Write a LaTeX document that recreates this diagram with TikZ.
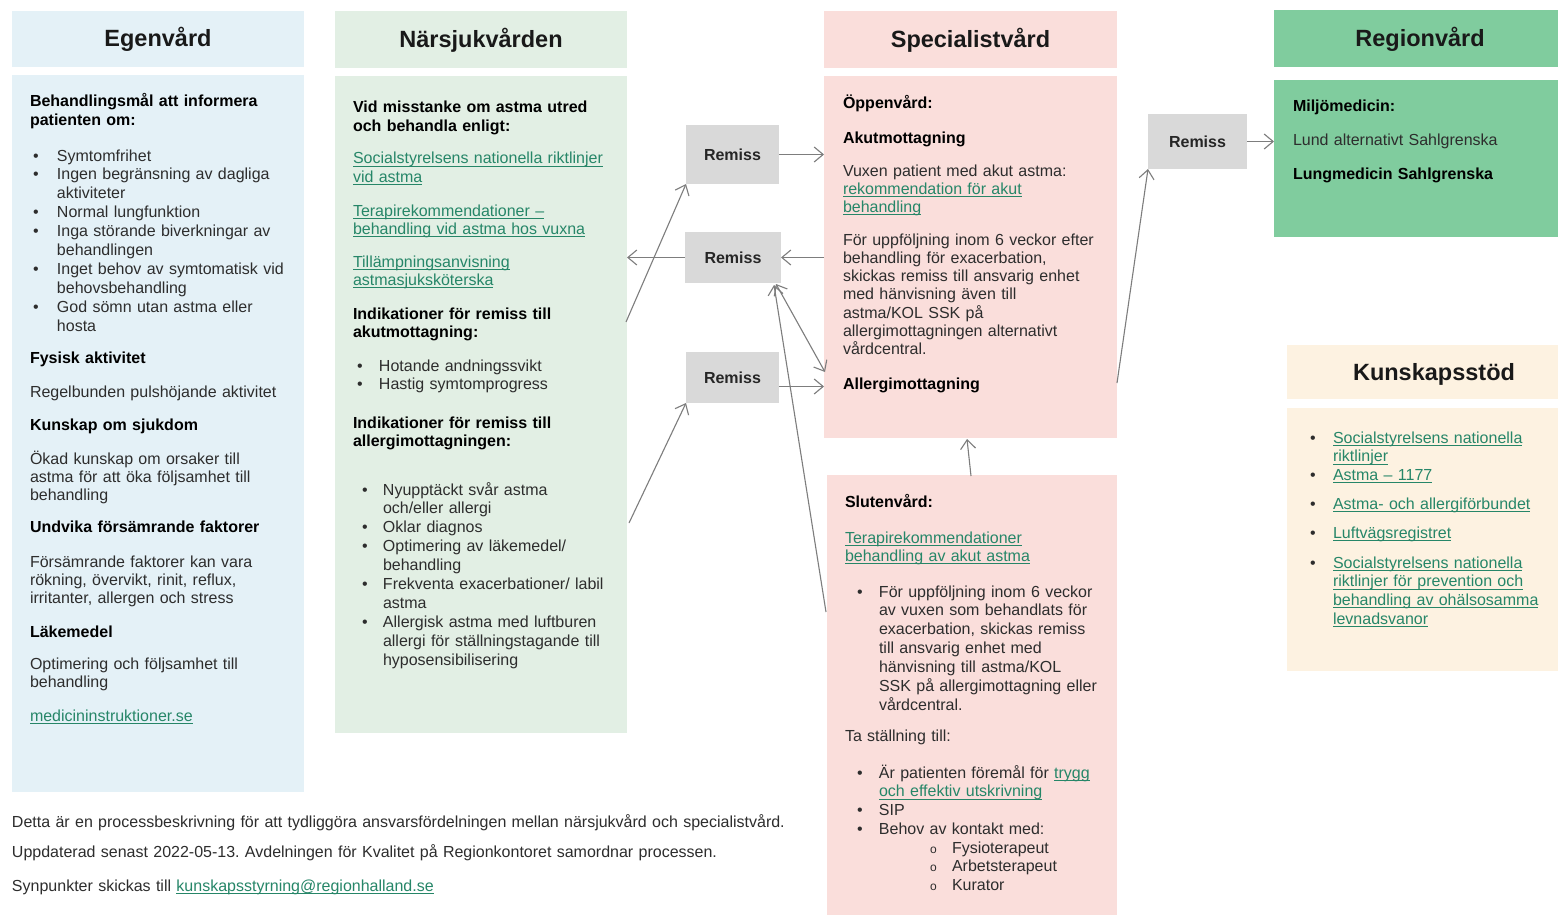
\documentclass[tikz,border=0pt]{standalone}
\usepackage{fontspec}
\setmainfont{Liberation Sans}
\usetikzlibrary{arrows.meta,calc}
\frenchspacing
\definecolor{egen}{RGB}{228,241,247}
\definecolor{nars}{RGB}{226,239,228}
\definecolor{spec}{RGB}{250,222,219}
\definecolor{regn}{RGB}{128,204,158}
\definecolor{kuns}{RGB}{253,242,225}
\definecolor{remc}{RGB}{217,217,217}
\definecolor{linkc}{RGB}{38,134,104}
\definecolor{bodyc}{RGB}{45,45,45}
\definecolor{arrc}{RGB}{125,125,125}
\newlength\bw
\setlength\bw{24pt}
\newcommand\lnk[1]{\leavevmode{\color{linkc}\setbox0\hbox{#1}\rlap{\rule[-2.6pt]{\wd0}{1pt}}\box0}}
\newcommand\bodyfont{\fontsize{16}{18.3}\selectfont\frenchspacing}
\newcommand\listfont{\fontsize{16}{18.9}\selectfont\frenchspacing}
\newcommand\bu{\makebox[\bw][l]{\textbullet}}
\newcommand\ci{\makebox[\bw][l]{\fontsize{12}{12}\selectfont o}}
\newcommand\nx{\hspace*{\bw}}
\tikzset{
  txt/.style={anchor=base west, inner sep=0pt, outer sep=0pt, text width=300pt, align=left, font=\bodyfont, text=bodyc},
  bld/.style={txt, font=\bodyfont\bfseries, text=black},
  lst/.style={txt, font=\listfont},
  box/.style={anchor=north west, inner sep=0pt, outer sep=0pt, draw=none},
  hd/.style={box, font=\fontsize{23.5}{26}\selectfont\bfseries, text height=18pt, text depth=2pt, text=black!90},
  rem/.style={fill=remc, inner sep=0pt, outer sep=0pt, font=\fontsize{16}{18}\selectfont\bfseries, text height=12pt, text depth=0pt, text=black!85},
  arr/.style={draw=arrc, line width=1.1pt, -{Straight Barb[length=9pt,width=15pt]}},
  arr2/.style={draw=arrc, line width=1.1pt, {Straight Barb[length=9pt,width=15pt]}-{Straight Barb[length=9pt,width=15pt]}}
}
\begin{document}
\begin{tikzpicture}[x=1pt,y=-1pt]
\fill[white] (0,0) rectangle (1558,915);
\useasboundingbox (0,0) rectangle (1558,915);
% headers
\node[hd, fill=egen, minimum width=292pt, minimum height=56pt] (egH) at (12,11) {Egenvård};
\node[hd, fill=nars, minimum width=292pt, minimum height=57pt] (naH) at (335,11) {Närsjukvården};
\node[hd, fill=spec, minimum width=293pt, minimum height=57pt] (spH) at (824,11) {Specialistvård};
\node[hd, fill=regn, minimum width=284pt, minimum height=57pt] (reH) at (1274,10) {\hspace*{8pt}Regionvård};
\node[hd, fill=kuns, minimum width=271pt, minimum height=54pt] (kuH) at (1287,345) {\hspace*{23pt}Kunskapsstöd};
% bodies
\node[box, fill=egen, minimum width=292pt, minimum height=717pt] (egB) at (12,75) {};
\node[box, fill=nars, minimum width=292pt, minimum height=657pt] (naB) at (335,76) {};
\node[box, fill=spec, minimum width=293pt, minimum height=362pt] (spB) at (824,76) {};
\node[box, fill=spec, minimum width=290pt, minimum height=440pt] (slB) at (827,475) {};
\node[box, fill=regn, minimum width=284pt, minimum height=157pt] (reB) at (1274,80) {};
\node[box, fill=kuns, minimum width=271pt, minimum height=263pt] (kuB) at (1287,408) {};
% remiss boxes
\node[rem, minimum width=93pt, minimum height=59pt] (rem1) at (732.5,154.5) {Remiss};
\node[rem, minimum width=96pt, minimum height=51pt] (rem2) at (733,257.5) {Remiss};
\node[rem, minimum width=93pt, minimum height=51pt] (rem3) at (732.5,377.5) {Remiss};
\node[rem, minimum width=99pt, minimum height=55pt] (rem4) at (1197.5,141.5) {Remiss};
% Egenvard text
\node[bld] (e1) at (30,107) {Behandlingsmål att informera\\patienten om:};
\node[lst] (e2) at (33,161) {\bu Symtomfrihet\\\bu Ingen begränsning av dagliga\\\nx aktiviteter\\\bu Normal lungfunktion\\\bu Inga störande biverkningar av\\\nx behandlingen\\\bu Inget behov av symtomatisk vid\\\nx behovsbehandling\\\bu God sömn utan astma eller\\\nx hosta};
\node[bld] (e3) at (30,363) {Fysisk aktivitet};
\node[txt] (e4) at (30,397) {Regelbunden pulshöjande aktivitet};
\node[bld] (e5) at (30,430) {Kunskap om sjukdom};
\node[txt] (e6) at (30,464) {Ökad kunskap om orsaker till\\astma för att öka följsamhet till\\behandling};
\node[bld] (e7) at (30,532) {Undvika försämrande faktorer};
\node[txt] (e8) at (30,567) {Försämrande faktorer kan vara\\rökning, övervikt, rinit, reflux,\\irritanter, allergen och stress};
\node[bld] (e9) at (30,637) {Läkemedel};
\node[txt] (e10) at (30,669) {Optimering och följsamhet till\\behandling};
\node[txt] (e11) at (30,721) {\lnk{medicininstruktioner.se}};
% Narsjukvarden text
\node[bld] (n1) at (353,113) {Vid misstanke om astma utred\\och behandla enligt:};
\node[txt] (n2) at (353,164) {\lnk{Socialstyrelsens nationella riktlinjer}\\\lnk{vid astma}};
\node[txt] (n3) at (353,216) {\lnk{Terapirekommendationer –}\\\lnk{behandling vid astma hos vuxna}};
\node[txt] (n4) at (353,267) {\lnk{Tillämpningsanvisning}\\\lnk{astmasjuksköterska}};
\node[bld] (n5) at (353,319) {Indikationer för remiss till\\akutmottagning:};
\node[lst] (n6) at (357,371) {\setlength\bw{22pt}\bu Hotande andningssvikt\\\bu Hastig symtomprogress};
\node[bld] (n7) at (353,428) {Indikationer för remiss till\\allergimottagningen:};
\node[lst] (n8) at (362,495) {\setlength\bw{21pt}\bu Nyupptäckt svår astma\\\nx och/eller allergi\\\bu Oklar diagnos\\\bu Optimering av läkemedel/\\\nx behandling\\\bu Frekventa exacerbationer/ labil\\\nx astma\\\bu Allergisk astma med luftburen\\\nx allergi för ställningstagande till\\\nx hyposensibilisering};
% Specialist text
\node[bld] (s1) at (843,109) {Öppenvård:};
\node[bld] (s2) at (843,143) {Akutmottagning};
\node[txt] (s3) at (843,176) {Vuxen patient med akut astma:\\\lnk{rekommendation för akut}\\\lnk{behandling}};
\node[txt] (s4) at (843,245) {För uppföljning inom 6 veckor efter\\behandling för exacerbation,\\skickas remiss till ansvarig enhet\\med hänvisning även till\\astma/KOL SSK på\\allergimottagningen alternativt\\vårdcentral.};
\node[bld] (s5) at (843,389) {Allergimottagning};
% Slutenvard text
\node[bld] (u1) at (845,507) {Slutenvård:};
\node[txt] (u2) at (845,543) {\lnk{Terapirekommendationer}\\\lnk{behandling av akut astma}};
\node[lst] (u3) at (857,597) {\setlength\bw{22pt}\bu För uppföljning inom 6 veckor\\\nx av vuxen som behandlats för\\\nx exacerbation, skickas remiss\\\nx till ansvarig enhet med\\\nx hänvisning till astma/KOL\\\nx SSK på allergimottagning eller\\\nx vårdcentral.};
\node[txt] (u4) at (845,741) {Ta ställning till:};
\node[lst] (u5) at (857,778) {\setlength\bw{22pt}\bu Är patienten föremål för \lnk{trygg}\\\nx\lnk{och effektiv utskrivning}\\\bu SIP\\\bu Behov av kontakt med:};
\node[lst] (u6) at (930,853) {\setlength\bw{22pt}\ci Fysioterapeut\\\ci Arbetsterapeut\\\ci Kurator};
% Regionvard text
\node[bld] (r1) at (1293,112) {Miljömedicin:};
\node[txt] (r2) at (1293,146) {Lund alternativt Sahlgrenska};
\node[bld] (r3) at (1293,179) {Lungmedicin Sahlgrenska};
% Kunskapsstod text
\node[lst] (k1) at (1310,443) {\setlength\bw{23pt}\bu\lnk{Socialstyrelsens nationella}\\\nx\lnk{riktlinjer}\\\bu\lnk{Astma – 1177}};
\node[lst] (k2) at (1310,509) {\setlength\bw{23pt}\bu\lnk{Astma- och allergiförbundet}};
\node[lst] (k3) at (1310,538) {\setlength\bw{23pt}\bu\lnk{Luftvägsregistret}};
\node[lst] (k4) at (1310,568) {\setlength\bw{23pt}\bu\lnk{Socialstyrelsens nationella}\\\nx\lnk{riktlinjer för prevention och}\\\nx\lnk{behandling av ohälsosamma}\\\nx\lnk{levnadsvanor}};
% footer
\node[txt, text width=900pt] (f1) at (12,827) {Detta är en processbeskrivning för att tydliggöra ansvarsfördelningen mellan närsjukvård och specialistvård.};
\node[txt, text width=900pt] (f2) at (12,857) {Uppdaterad senast 2022-05-13. Avdelningen för Kvalitet på Regionkontoret samordnar processen.};
\node[txt, text width=900pt] (f3) at (12,891) {Synpunkter skickas till \lnk{kunskapsstyrning@regionhalland.se}};
% connectors
\coordinate (a1) at (626,322);
\draw[arr] (a1) -- (rem1.south west);
\draw[arr] (rem1.east) -- (rem1.east -| spB.west);
\draw[arr] (rem2.east -| spB.west) -- (rem2.east);
\draw[arr] (rem2.west) -- (rem2.west -| naB.east);
\coordinate (a5) at (629,523);
\draw[arr] (a5) -- (rem3.south west);
\coordinate (r3o) at ($(rem3.east)+(0,9)$);
\draw[arr] (r3o) -- (r3o -| spB.west);
\coordinate (d1) at ($(rem2.south east)+(-5,1)$);
\coordinate (d2) at (825,372);
\draw[arr2] (d1) -- (d2);
\coordinate (c8) at (826,612);
\coordinate (c8t) at ($(rem2.south east)+(-7,2)$);
\draw[arr] (c8) -- (c8t);
\coordinate (c9a) at (971,476);
\coordinate (c9b) at (967,439);
\draw[arr] (c9a) -- (c9b);
\coordinate (c10) at (1117,383);
\draw[arr] (c10) -- (rem4.south west);
\draw[arr] (rem4.east) -- (rem4.east -| reB.west);
\end{tikzpicture}
\end{document}
